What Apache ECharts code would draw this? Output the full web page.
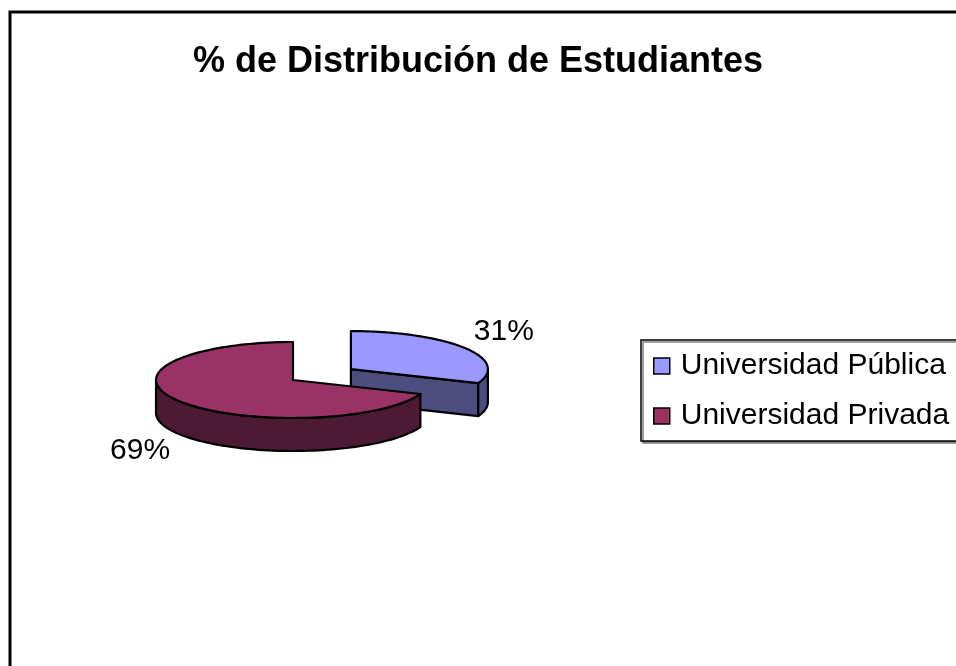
<!DOCTYPE html>
<html>
<head>
<meta charset="utf-8">
<script src="https://cdn.jsdelivr.net/npm/echarts@6/dist/echarts.min.js"></script>
<style>
  html, body { margin: 0; padding: 0; background: #fff; }
  #chart { width: 956px; height: 666px; }
</style>
</head>
<body>
<div id="chart"></div>
<script>
// data
var categories = ['Universidad Pública', 'Universidad Privada'];
var values = [31, 69];
var labels = ['31%', '69%'];

// look of the fake 3d pie
var topColors = ['#9999FF', '#993366'];
var sideColors = ['#4D4D80', '#4D1A33'];
var explode = [70, 0];
var cx = 293, cy = 380, rx = 137, ry = 38, depth = 33;

var total = values.reduce(function (a, b) { return a + b; }, 0);

function render_slice(params, api) {
    var idx = params.seriesIndex;
    var before = 0;
    for (var i = 0; i < idx; i++) before += values[i];
    var start = 90 - 360 * before / total;
    var end = start - 360 * api.value(0) / total;
    var rad = Math.PI / 180;
    var mid = (start + end) / 2 * rad;
    var ox = cx + explode[idx] * Math.cos(mid);
    var oy = cy - explode[idx] * Math.sin(mid) * ry / rx;
    function pt(a, dz) { return [ox + rx * Math.cos(a * rad), oy - ry * Math.sin(a * rad) + dz]; }

    var stroke = { stroke: '#000', lineWidth: 2.2, lineJoin: 'round' };
    var children = [];
    function poly(points, fill) {
        children.push({ type: 'polygon', shape: { points: points },
            style: Object.assign({ fill: fill }, stroke) });
    }

    // radial faces that turn to the viewer
    if (Math.sin((start + 90) * rad) < -0.01) {
        poly([[ox, oy], pt(start, 0), pt(start, depth), [ox, oy + depth]], sideColors[idx]);
    }
    if (Math.sin((end - 90) * rad) < -0.01) {
        poly([[ox, oy], pt(end, 0), pt(end, depth), [ox, oy + depth]], sideColors[idx]);
    }

    // outer wall, front half only
    var steps = 120, run = [];
    function flush() {
        if (run.length > 1) {
            var topPts = run.map(function (a) { return pt(a, 0); });
            var botPts = run.slice().reverse().map(function (a) { return pt(a, depth); });
            poly(topPts.concat(botPts), sideColors[idx]);
        }
        run = [];
    }
    for (var s = 0; s <= steps; s++) {
        var a = start + (end - start) * s / steps;
        if (Math.sin(a * rad) < 0.0001) run.push(a); else flush();
    }
    flush();

    // top face
    var topFace = [[ox, oy]];
    for (var k = 0; k <= steps; k++) topFace.push(pt(start + (end - start) * k / steps, 0));
    poly(topFace, topColors[idx]);

    // label
    var lx = ox + rx * 1.35 * Math.cos(mid);
    var ly = oy - ry * 1.75 * Math.sin(mid) + (Math.sin(mid) < 0 ? depth : 0);
    children.push({ type: 'text', x: lx, y: ly,
        style: { text: labels[idx], fill: '#000', font: '30px "Liberation Sans", Arial, sans-serif',
                 align: 'center', verticalAlign: 'middle' } });

    return { type: 'group', children: children };
}

var chart = echarts.init(document.getElementById('chart'));

var option = {
    animation: false,
    backgroundColor: '#fff',
    title: {
        text: '% de Distribución de Estudiantes',
        left: 'center',
        top: 44,
        padding: 0,
        textStyle: { fontFamily: '"Liberation Sans", Arial, sans-serif', fontSize: 36, fontWeight: 'bold', color: '#000' }
    },
    legend: {
        orient: 'vertical',
        left: 641,
        top: 340,
        padding: [9, 24, 8, 12],
        itemGap: 16,
        itemWidth: 16,
        itemHeight: 16,
        icon: 'rect',
        borderColor: '#000',
        borderWidth: 1.5,
        backgroundColor: '#fff',
        shadowColor: '#808080',
        shadowOffsetX: 2,
        shadowOffsetY: 2,
        shadowBlur: 0,
        itemStyle: { borderColor: '#000', borderWidth: 1.5 },
        textStyle: { fontFamily: '"Liberation Sans", Arial, sans-serif', fontSize: 30, color: '#000',
                     lineHeight: 34, padding: [0, 0, 0, 6] },
        data: categories
    },
    graphic: [{
        type: 'rect',
        shape: { x: 10, y: 12, width: 980, height: 700 },
        style: { fill: 'none', stroke: '#000', lineWidth: 3 },
        silent: true
    }],
    series: categories.map(function (name, i) {
        return {
            type: 'custom',
            name: name,
            coordinateSystem: 'none',
            itemStyle: { color: topColors[i] },
            renderItem: render_slice,
            data: [[values[i]]]
        };
    })
};

chart.setOption(option);
</script>
</body>
</html>
